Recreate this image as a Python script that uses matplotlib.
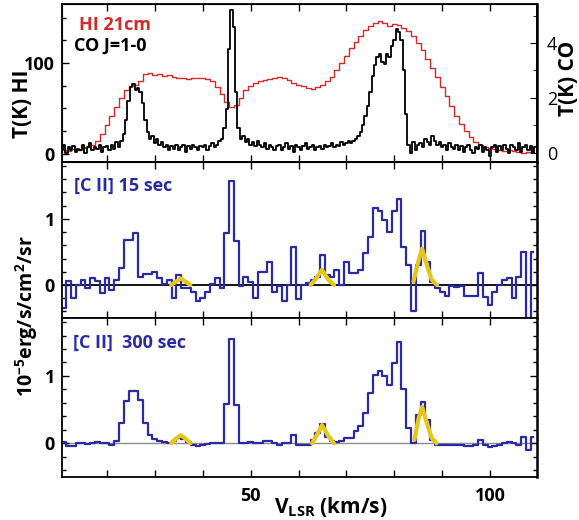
import numpy as np
import matplotlib
matplotlib.use("Agg")
import matplotlib.pyplot as plt
from matplotlib.ticker import MultipleLocator

plt.rcParams['font.family'] = ['Open Sans', 'DejaVu Sans']
plt.rcParams['mathtext.default'] = 'regular'

# ==================================================
# DATA
# ==================================================
# HI 21cm, 1 km/s channels, v = 11 ... 109
v_hi = list(range(11, 110))
hi_21cm = [4, 3, 5, 4, 6, 7, 10, 14, 22, 32,
           42, 52, 62, 70, 75, 76, 80, 88, 89, 87,
           88, 86, 87, 85, 84, 83, 82, 84, 83, 84,
           82, 80, 74, 66, 57, 52, 54, 62, 70, 75,
           78, 80, 81, 82, 84, 85, 83, 81, 78, 76,
           75, 73, 71, 74, 76, 80, 85, 92, 100, 108,
           116, 123, 130, 136, 141, 144, 146, 144, 141, 143,
           142, 139, 135, 130, 122, 114, 104, 95, 85, 74,
           64, 53, 42, 33, 25, 18, 13, 10, 8, 6,
           5, 4, 3, 4, 3, 2, 1, 2, 3]

# CO J=1-0, 0.5 km/s channels, v = 10.5 ... 109.5
v_co = np.arange(10.5, 109.75, 0.5)
co_10 = [0.1, 0.3, 0.0, 0.2, 0.1, 0.25, 0.05, 0.15, 0.1, 0.3,
         0.0, 0.2, 0.35, 0.1, 0.2, 0.15, 0.3, 0.05, 0.2, 0.25,
         0.1, 0.3, 0.15, 0.4, 0.2, 0.45, 0.7, 1.2, 1.9, 2.4,
         2.5, 2.3, 2.35, 2.2, 1.8, 1.2, 0.75, 0.5, 0.6, 0.35,
         0.5, 0.3, 0.4, 0.2, 0.3, 0.1, 0.25, 0.15, 0.3, 0.1,
         0.2, 0.3, 0.05, 0.25, 0.15, 0.3, 0.2, 0.1, 0.25, 0.2,
         0.3, 0.1, 0.25, 0.35, 0.2, 0.3, 0.45, 0.5, 0.9, 1.6,
         3.8, 5.2, 4.6, 2.2, 0.9, 0.5, 0.6, 0.4, 0.5, 0.3,
         0.4, 0.25, 0.45, 0.3, 0.2, 0.35, 0.15, 0.3, 0.2, 0.1,
         0.25, 0.3, 0.1, 0.2, 0.35, 0.15, 0.25, 0.05, 0.3, 0.2,
         0.1, 0.25, 0.35, 0.15, 0.2, 0.3, 0.1, 0.2, 0.25, 0.15,
         0.3, 0.2, 0.25, 0.35, 0.2, 0.3, 0.25, 0.4, 0.3, 0.35,
         0.45, 0.35, 0.45, 0.5, 0.6, 0.75, 1.0, 1.35, 1.7, 2.2,
         2.8, 3.2, 3.5, 3.6, 3.3, 3.25, 3.6, 3.5, 3.9, 4.1,
         4.5, 4.4, 4.1, 3.0, 1.4, 0.3, 0.0, 0.4, 0.1, 0.3,
         0.35, 0.2, 0.5, 0.4, 0.3, 0.6, 0.45, 0.3, 0.4, 0.2,
         0.3, 0.1, 0.35, 0.2, 0.15, 0.3, 0.1, 0.25, 0.05, 0.2,
         0.3, 0.1, 0.0, 0.2, 0.15, 0.3, 0.05, 0.2, 0.1, -0.1,
         0.2, 0.3, 0.05, 0.25, 0.1, 0.3, 0.15, 0.0, 0.3, 0.2,
         0.1, 0.35, 0.05, 0.2, 0.3, 0.1, 0.25, 0.0, 0.2]

# [C II] spectra, 1 km/s channels, v = 11 ... 109
v_cii = list(range(11, 110))
cii_15 = [-0.35, 0.06, -0.2, 0.0, 0.08, -0.05, 0.1, 0.06, -0.12, 0.1,
          -0.08, 0.08, 0.25, 0.68, 0.68, 0.78, 0.12, 0.16, 0.16, 0.19,
          0.1, 0.02, 0.08, -0.2, 0.15, -0.05, -0.05, -0.1, -0.25, -0.2,
          -0.1, 0.02, 0.1, -0.05, 0.78, 1.57, 0.67, -0.02, 0.12, 0.05,
          -0.2, 0.2, 0.2, 0.35, -0.1, -0.02, -0.25, 0.0, 0.58, -0.22,
          0.0, 0.03, 0.07, 0.12, 0.45, 0.15, 0.12, 0.22, 0.0, 0.35,
          0.18, 0.18, 0.22, 0.48, 0.72, 1.17, 1.12, 0.98, 0.8, 1.12,
          1.3, 0.58, 0.3, -0.4, 0.3, 0.82, 0.35, 0.05, -0.05, -0.1,
          -0.17, -0.02, -0.03, -0.02, -0.17, -0.17, -0.17, 0.18, -0.18, -0.3,
          -0.1, 0.0, 0.08, 0.1, -0.2, 0.12, 0.5, -0.5, 0.5]
cii_300 = [0.02, -0.04, -0.04, 0.0, 0.01, -0.01, 0.01, 0.02, 0.0, 0.01,
           -0.02, 0.03, 0.3, 0.63, 0.78, 0.78, 0.65, 0.3, 0.12, 0.06,
           0.03, 0.02, 0.01, 0.03, 0.08, 0.06, 0.02, -0.02, -0.04, -0.03,
           -0.01, 0.0, 0.01, 0.0, 0.58, 1.55, 0.57, 0.01, 0.0, 0.02,
           0.0, 0.01, 0.03, 0.04, 0.0, -0.02, 0.01, 0.0, 0.12, -0.02,
           -0.03, -0.02, 0.05, 0.15, 0.28, 0.1, 0.04, 0.02, 0.04, 0.08,
           0.08, 0.18, 0.25, 0.45, 0.75, 1.01, 1.08, 1.0, 0.87, 1.19,
           1.5, 0.81, 0.22, 0.0, 0.42, 0.61, 0.35, 0.05, -0.02, -0.02,
           -0.03, -0.02, -0.02, -0.03, -0.04, -0.04, -0.02, 0.05, -0.02, -0.05,
           -0.04, -0.02, 0.0, 0.02, 0.0, -0.03, 0.1, -0.1, 0.1]

# gaussian fits (yellow), read as points
fit15_v = [[33.4, 34.4, 35.4, 36.4, 37.4],
           [62.5, 63.5, 64.9, 66.2, 67.4],
           [84.0, 85.0, 85.8, 86.8, 87.8, 88.9]]
fit15_y = [[0.0, 0.05, 0.1, 0.05, 0.0],
           [0.0, 0.08, 0.23, 0.08, 0.0],
           [0.05, 0.35, 0.55, 0.3, 0.08, 0.0]]
fit300_v = [[33.4, 34.4, 35.4, 36.4, 37.4],
            [62.8, 63.8, 64.9, 66.1, 67.4],
            [84.2, 85.0, 85.8, 86.8, 87.8, 88.8]]
fit300_y = [[0.0, 0.07, 0.12, 0.07, 0.0],
            [0.0, 0.12, 0.27, 0.12, 0.0],
            [0.05, 0.35, 0.54, 0.3, 0.08, 0.0]]

# ==================================================
# FIGURE
# ==================================================
RED = '#d42a2a'
BLUE = '#2a2aa6'
YELLOW = '#e6c619'
XMIN, XMAX = 10.6, 109.8

fig = plt.figure(figsize=(5.79, 5.20), dpi=100)
L, W = 62 / 579, 475 / 579
ax_top = fig.add_axes([L, 1 - 162 / 520, W, 158 / 520])
ax_mid = fig.add_axes([L, 1 - 318 / 520, W, 156 / 520])
ax_bot = fig.add_axes([L, 1 - 477 / 520, W, 159 / 520])

# top panel: HI + CO
ax_top.step(v_hi, hi_21cm, where='mid', color=RED, lw=1.0)
ax_top.set_ylim(-9, 165)
ax_co = ax_top.twinx()
ax_co.step(v_co, co_10, where='mid', color='black', lw=1.3)
ax_co.set_ylim(-0.33, 5.42)

ax_top.set_yticks([0, 100])
ax_top.set_yticklabels(['0', '100'], fontsize=13, fontweight='bold')
ax_top.yaxis.set_minor_locator(MultipleLocator(25))
ax_co.set_yticks([0, 2, 4])
ax_co.set_yticklabels(['0', '2', '4'], fontsize=13)
ax_co.yaxis.set_minor_locator(MultipleLocator(1))
ax_co.tick_params(axis='y', which='both', direction='in', pad=7)
ax_co.tick_params(axis='y', which='major', length=5)
ax_co.tick_params(axis='y', which='minor', length=3)

ax_top.text(0.036, 0.867, 'HI 21cm', transform=ax_top.transAxes, color=RED,
            fontsize=13, fontweight='bold', va='center', zorder=5)
ax_top.text(0.025, 0.734, 'CO J=1-0', transform=ax_top.transAxes, color='black',
            fontsize=13, fontweight='bold', va='center', zorder=5)

# middle panel: [C II] 15 sec
ax_mid.axhline(0, color='black', lw=1.3, zorder=1)
ax_mid.step(v_cii, cii_15, where='mid', color=BLUE, lw=1.6, zorder=2)
for fv, fy in zip(fit15_v, fit15_y):
    ax_mid.plot(fv, fy, color=YELLOW, lw=3, zorder=3, solid_capstyle='round')
ax_mid.text(0.025, 0.846, '[C II] 15 sec', transform=ax_mid.transAxes, color=BLUE,
            fontsize=13, fontweight='bold', va='center')

# bottom panel: [C II] 300 sec
ax_bot.axhline(0, color='#8c8c8c', lw=1.0, zorder=1)
ax_bot.step(v_cii, cii_300, where='mid', color=BLUE, lw=1.6, zorder=2)
for fv, fy in zip(fit300_v, fit300_y):
    ax_bot.plot(fv, fy, color=YELLOW, lw=3, zorder=3, solid_capstyle='round')
ax_bot.text(0.023, 0.843, '[C II]  300 sec', transform=ax_bot.transAxes, color=BLUE,
            fontsize=13, fontweight='bold', va='center')

for ax in (ax_mid, ax_bot):
    ax.set_ylim(-0.5, 1.86)
    ax.set_yticks([0, 1])
    ax.set_yticklabels(['0', '1'], fontsize=13, fontweight='bold')
    ax.yaxis.set_minor_locator(MultipleLocator(0.2))

xt = list(range(20, 110, 10))
for ax in (ax_top, ax_mid, ax_bot):
    ax.set_xlim(XMIN, XMAX)
    ax.set_xticks(xt)
    ax.set_xticklabels([''] * len(xt))
    ax.tick_params(which='both', direction='in', top=True,
                   right=(ax is not ax_top), pad=5)
    ax.tick_params(which='major', length=5, width=1)
    ax.tick_params(which='minor', length=3, width=1)
    for s in ax.spines.values():
        s.set_linewidth(1.3)
ax_co.spines['right'].set_linewidth(1.8)
ax_mid.spines['right'].set_linewidth(1.8)
ax_bot.spines['right'].set_linewidth(1.8)

ax_bot.set_xticklabels(['50' if t == 50 else '100' if t == 100 else '' for t in xt],
                       fontsize=13, fontweight='bold')
ax_bot.tick_params(axis='x', pad=7)

# axis labels
fig.text(23 / 579, 1 - 104 / 520, 'T(K) HI', rotation=90, ha='center', va='center',
         fontsize=15, fontweight='bold')
fig.text(568 / 579, 1 - 78 / 520, 'T(K) CO', rotation=90, ha='center', va='center',
         fontsize=15, fontweight='bold')
fig.text(27 / 579, 1 - 316 / 520, r'10$^{-5}$erg/s/cm$^{2}$/sr', rotation=90,
         ha='center', va='center', fontsize=14, fontweight='bold')
fig.text(331 / 579, 1 - 513 / 520, r'V$_{LSR}$ (km/s)', ha='center', va='baseline',
         fontsize=15, fontweight='bold')

fig.savefig('out.png', dpi=100)
